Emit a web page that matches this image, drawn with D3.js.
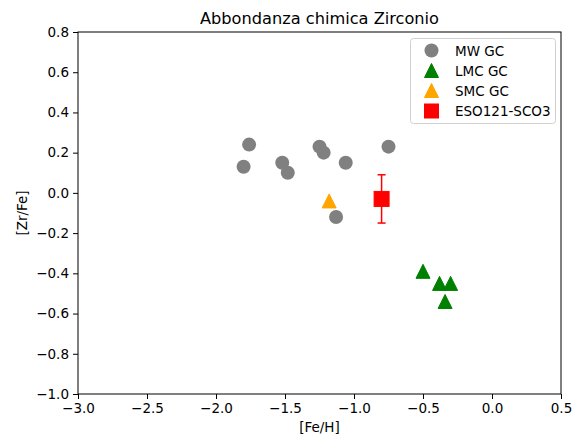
<!DOCTYPE html>
<html><head><meta charset="utf-8">
<script src="https://cdn.jsdelivr.net/npm/d3@7"></script>
<style>body{margin:0;background:#fff}svg{display:block;font-family:"DejaVu Sans",sans-serif}</style>
</head><body><svg id="c" width="576" height="441"></svg>
<script>
const mwFeH = [-1.76, -1.80, -1.52, -1.48, -1.25, -1.22, -1.06, -1.13, -0.75];
const mwZrFe = [0.24, 0.13, 0.15, 0.10, 0.23, 0.20, 0.15, -0.12, 0.23];
const lmcFeH = [-0.50, -0.38, -0.30, -0.34];
const lmcZrFe = [-0.39, -0.45, -0.45, -0.54];
const smcFeH = [-1.18];
const smcZrFe = [-0.04];
const esoFeH = [-0.80];
const esoZrFe = [-0.03];
const esoErr = [0.12];
const xTicks = [-3.0, -2.5, -2.0, -1.5, -1.0, -0.5, 0.0, 0.5];
const yTicks = [-1.0, -0.8, -0.6, -0.4, -0.2, 0.0, 0.2, 0.4, 0.6, 0.8];
const legendLabels = ["MW GC", "LMC GC", "SMC GC", "ESO121-SCO3"];
const title = "Abbondanza chimica Zirconio";

const svg = d3.select("#c");
const L = 78, R = 561, T = 32, B = 394;
const x = d3.scaleLinear().domain([-3.0, 0.5]).range([L, R]);
const y = d3.scaleLinear().domain([-1.0, 0.8]).range([B, T]);
const fmt = v => d3.format(".1f")(v).replace("-", "\u2212");

const gx = svg.append("g").attr("transform", `translate(0,${B})`)
  .call(d3.axisBottom(x).tickValues(xTicks).tickFormat(fmt).tickSize(5).tickPadding(4));
const gy = svg.append("g").attr("transform", `translate(${L},0)`)
  .call(d3.axisLeft(y).tickValues(yTicks).tickFormat(fmt).tickSize(5).tickPadding(4));
[gx, gy].forEach(g => {
  g.select(".domain").remove();
  g.selectAll("text").attr("font-size", "13.5px").attr("fill", "#000").attr("font-family", "DejaVu Sans");
  g.selectAll("line").attr("stroke", "#000");
});
svg.append("rect").attr("x", L).attr("y", T).attr("width", R - L).attr("height", B - T)
  .attr("fill", "none").attr("stroke", "#000").attr("stroke-width", 1);

svg.append("text").attr("x", (L + R) / 2).attr("y", 24).attr("text-anchor", "middle")
  .attr("font-size", "16.2px").text(title);
svg.append("text").attr("x", (L + R) / 2).attr("y", 432).attr("text-anchor", "middle")
  .attr("font-size", "13.5px").text("[Fe/H]");
svg.append("text").attr("transform", `translate(27,${(T + B) / 2}) rotate(-90)`).attr("text-anchor", "middle")
  .attr("font-size", "13.5px").text("[Zr/Fe]");

const tri = d3.symbol().type(d3.symbolTriangle).size(105);
function triPath(s) {
  // equilateral-ish: width s, height s, centered on bbox
  const h = s / 2;
  return `M0,${-h}L${h},${h}L${-h},${h}Z`;
}

// MW
svg.append("g").selectAll("circle").data(mwFeH.map((v, i) => [v, mwZrFe[i]])).join("circle")
  .attr("cx", d => x(d[0])).attr("cy", d => y(d[1])).attr("r", 7).attr("fill", "gray");
// LMC
svg.append("g").selectAll("path").data(lmcFeH.map((v, i) => [v, lmcZrFe[i]])).join("path")
  .attr("d", triPath(14)).attr("transform", d => `translate(${x(d[0])},${y(d[1])})`)
  .attr("fill", "green").attr("stroke", "green").attr("stroke-width", 1);
// SMC
svg.append("g").selectAll("path").data(smcFeH.map((v, i) => [v, smcZrFe[i]])).join("path")
  .attr("d", triPath(14)).attr("transform", d => `translate(${x(d[0])},${y(d[1])})`)
  .attr("fill", "orange").attr("stroke", "orange").attr("stroke-width", 1);
// ESO with error bar
const eso = svg.append("g").selectAll("g").data(esoFeH.map((v, i) => [v, esoZrFe[i], esoErr[i]])).join("g");
eso.append("line").attr("x1", d => x(d[0])).attr("x2", d => x(d[0]))
  .attr("y1", d => y(d[1] + d[2])).attr("y2", d => y(d[1] - d[2])).attr("stroke", "red").attr("stroke-width", 1.5);
[1, -1].forEach(s => eso.append("line").attr("x1", d => x(d[0]) - 4).attr("x2", d => x(d[0]) + 4)
  .attr("y1", d => y(d[1] + s * d[2])).attr("y2", d => y(d[1] + s * d[2])).attr("stroke", "red").attr("stroke-width", 1.5));
eso.append("rect").attr("x", d => x(d[0]) - 7.5).attr("y", d => y(d[1]) - 7.5).attr("width", 15).attr("height", 15)
  .attr("fill", "red").attr("stroke", "red").attr("stroke-width", 1);

// Legend
const lg = svg.append("g");
lg.append("rect").attr("x", 410.5).attr("y", 38.5).attr("width", 145).attr("height", 85).attr("rx", 3)
  .attr("fill", "#fff").attr("fill-opacity", 0.8).attr("stroke", "#d0d0d0").attr("stroke-width", 1);
const rows = [50.5, 70.5, 90.5, 111];
const mx = 431.5, tx = 455;
lg.append("circle").attr("cx", mx).attr("cy", rows[0]).attr("r", 7).attr("fill", "gray");
lg.append("path").attr("d", triPath(14)).attr("transform", `translate(${mx},${rows[1]})`).attr("fill", "green").attr("stroke", "green");
lg.append("path").attr("d", triPath(14)).attr("transform", `translate(${mx},${rows[2]})`).attr("fill", "orange").attr("stroke", "orange");
lg.append("rect").attr("x", mx - 7.5).attr("y", rows[3] - 7.5).attr("width", 15).attr("height", 15).attr("fill", "red");
legendLabels.forEach((t, i) => lg.append("text").attr("x", tx).attr("y", rows[i] + 5).attr("font-size", "13.5px").text(t));
</script></body></html>
